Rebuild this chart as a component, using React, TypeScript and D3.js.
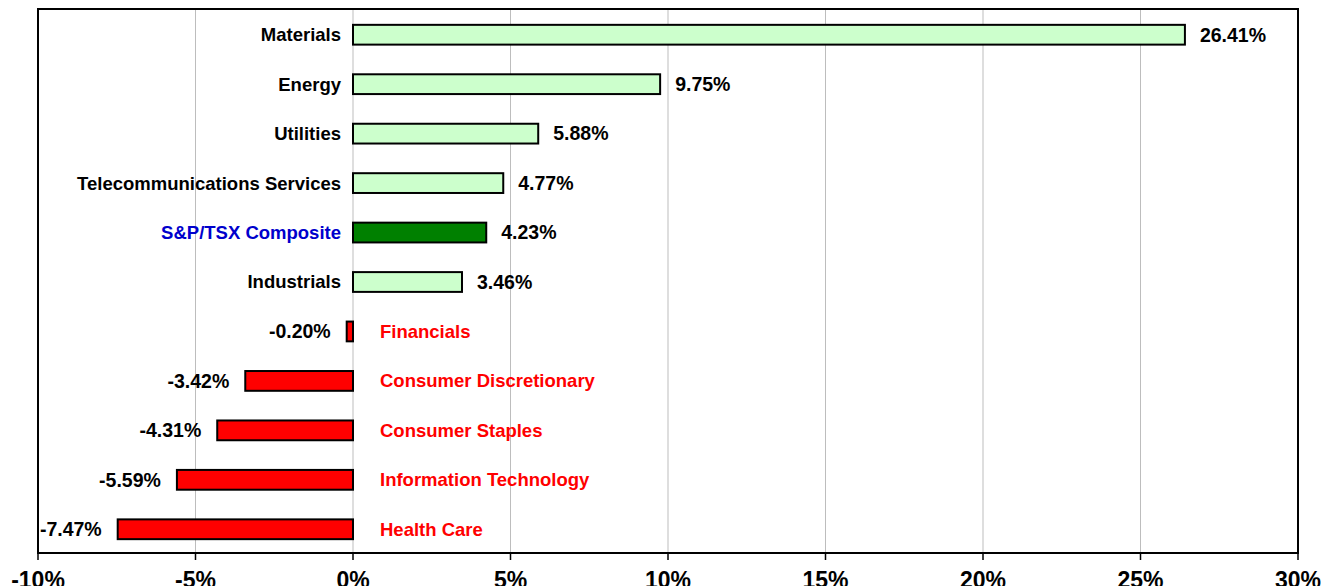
import React from "react";
import * as d3 from "d3";

const sectors = [
  "Materials",
  "Energy",
  "Utilities",
  "Telecommunications Services",
  "S&P/TSX Composite",
  "Industrials",
  "Financials",
  "Consumer Discretionary",
  "Consumer Staples",
  "Information Technology",
  "Health Care",
];
const returns = [26.41, 9.75, 5.88, 4.77, 4.23, 3.46, -0.2, -3.42, -4.31, -5.59, -7.47];
const xTicks = [-10, -5, 0, 5, 10, 15, 20, 25, 30];
const indexName = "S&P/TSX Composite";

const W = 1324;
const H = 586;
const m = { left: 38, right: 26, top: 9, bottom: 33 };

const FONT = "'Liberation Sans', Arial, sans-serif";

export default function App() {
  const x = d3.scaleLinear().domain([-10, 30]).range([m.left, W - m.right]);
  const bottom = H - m.bottom;
  const y = d3
    .scaleBand<string>()
    .domain(sectors)
    .range([m.top + 1, bottom + 1])
    .paddingInner(0.6)
    .paddingOuter(0.3);
  const bh = y.bandwidth();

  return (
    <svg
      width={W}
      height={H}
      style={{ position: "absolute", left: 0, top: 0, background: "#fff" }}
      fontFamily={FONT}
      fontWeight="bold"
    >
      {/* grid */}
      {xTicks.slice(1, -1).map((t) => (
        <line key={t} x1={x(t)} x2={x(t)} y1={m.top} y2={bottom} stroke="#bdbdbd" strokeWidth={1} />
      ))}

      {sectors.map((s, i) => {
        const v = returns[i];
        const cy = (y(s) as number) + bh / 2;
        const x0 = x(Math.min(0, v));
        const x1 = x(Math.max(0, v));
        const fill = s === indexName ? "#008000" : v >= 0 ? "#ccffcc" : "#ff0000";
        const labelColor = s === indexName ? "#0000cc" : v >= 0 ? "#000" : "#ff0000";
        return (
          <g key={s}>
            <rect x={x0} y={y(s)} width={x1 - x0} height={bh} fill={fill} stroke="#000" strokeWidth={2} />
            {v >= 0 ? (
              <>
                <text x={x(0) - 12} y={cy} dy="0.35em" textAnchor="end" fontSize={18.5} fill={labelColor}>
                  {s}
                </text>
                <text x={x1 + 15} y={cy} dy="0.35em" fontSize={19.5} fill="#000">
                  {v.toFixed(2)}%
                </text>
              </>
            ) : (
              <>
                <text x={x(0) + 27} y={cy} dy="0.35em" fontSize={18.5} fill={labelColor}>
                  {s}
                </text>
                <text x={x0 - 16} y={cy} dy="0.35em" textAnchor="end" fontSize={19.5} fill="#000">
                  {v.toFixed(2)}%
                </text>
              </>
            )}
          </g>
        );
      })}

      {/* frame */}
      <rect x={m.left} y={m.top} width={x(30) - m.left} height={bottom - m.top} fill="none" stroke="#000" strokeWidth={2} />

      {/* x axis */}
      {xTicks.map((t) => (
        <g key={t}>
          <line x1={x(t)} x2={x(t)} y1={bottom} y2={bottom + 7} stroke="#000" strokeWidth={1.5} />
          <text x={x(t)} y={bottom + 35} textAnchor="middle" fontSize={23} fill="#000">
            {t}%
          </text>
        </g>
      ))}
    </svg>
  );
}
